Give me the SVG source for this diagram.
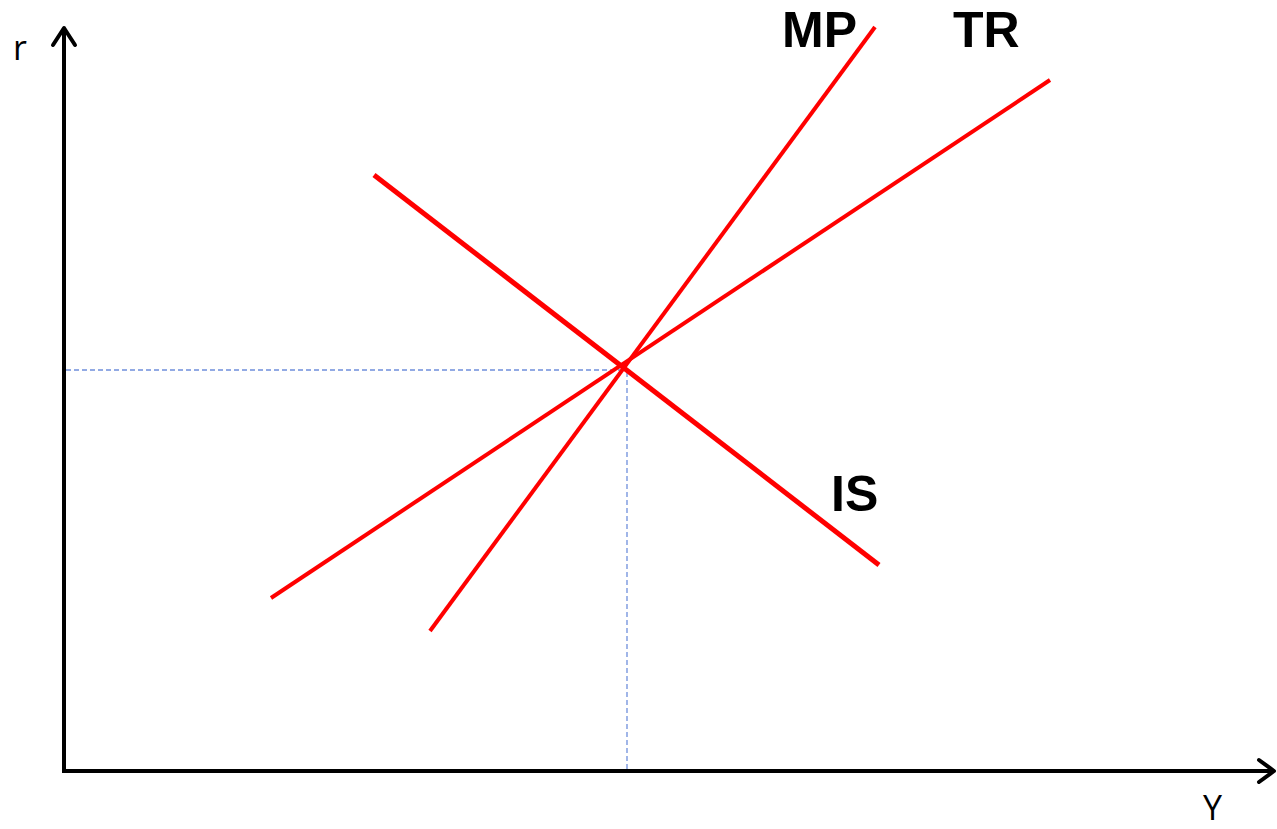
<svg xmlns="http://www.w3.org/2000/svg" width="1277" height="829" viewBox="0 0 1277 829">
<style>
.axis{stroke:#000;stroke-width:4;fill:none}
.head{stroke:#000;stroke-width:4;fill:none;stroke-linecap:round;stroke-linejoin:round}
.curve{stroke:#ff0000;fill:none}
.guide{stroke:#6f8fdc;stroke-width:1.3;stroke-dasharray:5,3;fill:none}
.lbl{font-family:"Liberation Sans",Arial,sans-serif;font-weight:bold;font-size:50px;fill:#000}
.ax{font-family:"Open Sans","Liberation Sans",sans-serif;font-size:34px;fill:#000}
</style>
<rect width="1277" height="829" fill="#fff"/>
<g id="axes">
<path class="axis" d="M64,28 L64,771 L1273,771"/>
<path class="head" d="M53,45 L64,28 L75,45"/>
<path class="head" d="M1259,760 L1274,771 L1259,782"/>
<text class="ax" x="13" y="60">r</text>
<text class="ax" x="1203" y="820">Y</text>
</g>
<g id="guides">
<path class="guide" d="M66,370 L623,370"/>
<path class="guide" d="M627,372 L627,770"/>
</g>
<g id="connectors">
<line id="IS" class="curve" stroke-width="5" x1="374" y1="175" x2="879" y2="565"/>
<line id="MP" class="curve" stroke-width="4" x1="430" y1="631" x2="875" y2="27"/>
<line id="TR" class="curve" stroke-width="4" x1="271" y1="598" x2="1050" y2="80"/>
</g>
<g id="labels">
<text class="lbl" x="782" y="47">MP</text>
<text class="lbl" x="953" y="47">TR</text>
<text class="lbl" x="831" y="511">IS</text>
</g>
</svg>
